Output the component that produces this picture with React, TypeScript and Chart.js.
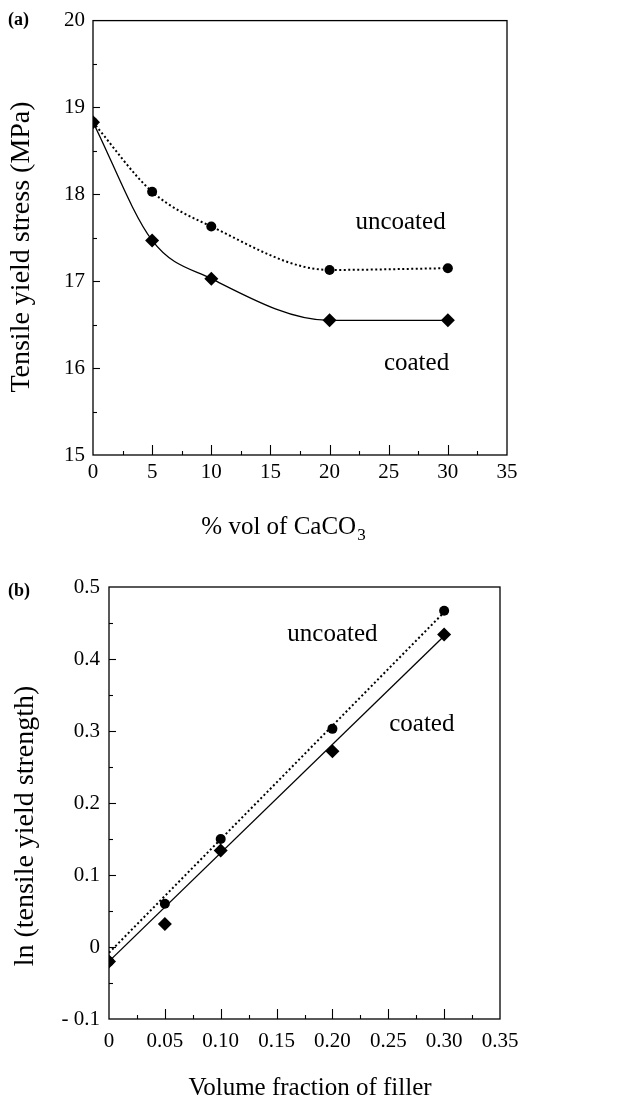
import React, { useEffect, useRef } from "react";
import { Chart, registerables } from "chart.js";

Chart.register(...registerables);

// ---------- data ----------
const pctVol = [0, 5, 10, 20, 30];
const uncoatedStress = [18.83, 18.03, 17.63, 17.13, 17.15];
const coatedStress = [18.83, 17.47, 17.03, 16.55, 16.55];

const volFraction = [0, 0.05, 0.1, 0.2, 0.3];
const uncoatedLn = [-0.02, 0.06, 0.15, 0.303, 0.467];
const coatedLn = [-0.02, 0.032, 0.134, 0.272, 0.434];

const fitX = [0, 0.3];
const uncoatedFit = [-0.008, 0.465];
const coatedFit = [-0.02, 0.432];

const xTicksA = [0, 5, 10, 15, 20, 25, 30, 35];
const yTicksA = [15, 16, 17, 18, 19, 20];
const xTicksB = ["0", "0.05", "0.10", "0.15", "0.20", "0.25", "0.30", "0.35"];
const yTicksB = ["- 0.1", "0", "0.1", "0.2", "0.3", "0.4", "0.5"];

// ---------- layout ----------
const W = 621;
const H = 554;
const SERIF = '"Liberation Serif", "Times New Roman", serif';

type Note = { text: string; x: number; y: number };
type Deco = {
  panel: string;
  panelX: number;
  panelY: number;
  yTitle: string;
  yTitleX: number;
  yTitleY: number;
  xTitle: string;
  xSub?: string;
  xTitleX: number;
  xTitleY: number;
  notes: Note[];
  xMajor: number;
  yMajor: number;
  xMajorLen: number;
  xMinorLen: number;
  yMajorLen: number;
  yMinorLen: number;
};

function decoPlugin(d: Deco) {
  return {
    id: "deco",
    afterDatasetsDraw(chart: any) {
      const ctx = chart.ctx as CanvasRenderingContext2D;
      const a = chart.chartArea;
      const xs = chart.scales.x;
      const ys = chart.scales.y;
      ctx.save();
      ctx.strokeStyle = "#000";
      ctx.lineWidth = 1.3;
      ctx.strokeRect(a.left, a.top, a.right - a.left, a.bottom - a.top);

      // x ticks (inward, from bottom)
      ctx.lineWidth = 1.1;
      const xm = d.xMajor / 2;
      const nx = Math.round((xs.max - xs.min) / xm);
      for (let i = 1; i < nx; i++) {
        const v = xs.min + i * xm;
        const px = Math.round(xs.getPixelForValue(v)) + 0.5;
        const len = i % 2 === 0 ? d.xMajorLen : d.xMinorLen;
        ctx.beginPath();
        ctx.moveTo(px, a.bottom);
        ctx.lineTo(px, a.bottom - len);
        ctx.stroke();
      }
      // y ticks (inward, from left)
      const ym = d.yMajor / 2;
      const ny = Math.round((ys.max - ys.min) / ym);
      for (let i = 1; i < ny; i++) {
        const v = ys.min + i * ym;
        const py = Math.round(ys.getPixelForValue(v)) + 0.5;
        const len = i % 2 === 0 ? d.yMajorLen : d.yMinorLen;
        ctx.beginPath();
        ctx.moveTo(a.left, py);
        ctx.lineTo(a.left + len, py);
        ctx.stroke();
      }

      ctx.fillStyle = "#000";
      // panel label
      ctx.font = `bold 18px ${SERIF}`;
      ctx.textAlign = "left";
      ctx.textBaseline = "middle";
      ctx.fillText(d.panel, d.panelX, d.panelY);

      // notes
      ctx.font = `25px ${SERIF}`;
      ctx.textAlign = "center";
      for (const n of d.notes) {
        ctx.fillText(n.text, xs.getPixelForValue(n.x), ys.getPixelForValue(n.y));
      }

      // x title
      ctx.font = `25px ${SERIF}`;
      const mainW = ctx.measureText(d.xTitle).width;
      let subW = 0;
      if (d.xSub) {
        ctx.font = `17px ${SERIF}`;
        subW = ctx.measureText(d.xSub).width;
      }
      const startX = d.xTitleX - (mainW + subW) / 2;
      ctx.font = `25px ${SERIF}`;
      ctx.textAlign = "left";
      ctx.textBaseline = "middle";
      ctx.fillText(d.xTitle, startX, d.xTitleY);
      if (d.xSub) {
        ctx.font = `17px ${SERIF}`;
        ctx.fillText(d.xSub, startX + mainW + 1, d.xTitleY + 9);
      }

      // y title
      ctx.save();
      ctx.translate(d.yTitleX, d.yTitleY);
      ctx.rotate(-Math.PI / 2);
      ctx.font = `28px ${SERIF}`;
      ctx.textAlign = "center";
      ctx.textBaseline = "middle";
      ctx.fillText(d.yTitle, 0, 0);
      ctx.restore();

      ctx.restore();
    },
  };
}

function makeOptions(opts: {
  plotLeft: number;
  plotRight: number;
  plotTop: number;
  plotBottom: number;
  xMin: number;
  xMax: number;
  xStep: number;
  yMin: number;
  yMax: number;
  yStep: number;
  xLabels: (string | number)[];
  yLabels: (string | number)[];
  xPad: number;
  yPad: number;
}) {
  const tickFont = { family: SERIF, size: 21 };
  return {
    responsive: false,
    animation: false as const,
    layout: {
      padding: {
        left: 0,
        top: opts.plotTop,
        right: W - opts.plotRight,
        bottom: 0,
      },
    },
    plugins: {
      legend: { display: false },
      tooltip: { enabled: false },
    },
    scales: {
      x: {
        type: "linear" as const,
        min: opts.xMin,
        max: opts.xMax,
        grid: { display: false, drawTicks: false },
        border: { display: false },
        afterFit: (s: any) => {
          s.height = H - opts.plotBottom;
        },
        ticks: {
          stepSize: opts.xStep,
          color: "#000",
          font: tickFont,
          padding: opts.xPad,
          maxRotation: 0,
          autoSkip: false,
          callback: (_v: any, i: number) => String(opts.xLabels[i] ?? ""),
        },
      },
      y: {
        type: "linear" as const,
        min: opts.yMin,
        max: opts.yMax,
        grid: { display: false, drawTicks: false },
        border: { display: false },
        afterFit: (s: any) => {
          s.width = opts.plotLeft;
        },
        ticks: {
          stepSize: opts.yStep,
          color: "#000",
          font: tickFont,
          padding: opts.yPad,
          autoSkip: false,
          callback: (_v: any, i: number) => String(opts.yLabels[i] ?? ""),
        },
      },
    },
  };
}

const pts = (xs: number[], ys: number[]) => xs.map((x, i) => ({ x, y: ys[i] }));

function buildA() {
  return {
    type: "scatter" as const,
    data: {
      datasets: [
        {
          label: "uncoated",
          data: pts(pctVol, uncoatedStress),
          showLine: true,
          borderColor: "#000",
          backgroundColor: "#000",
          borderWidth: 2,
          borderDash: [2, 2.5],
          cubicInterpolationMode: "monotone" as const,
          pointStyle: "circle" as const,
          pointRadius: 5,
          pointBorderWidth: 0,
          order: 1,
        },
        {
          label: "coated",
          data: pts(pctVol, coatedStress),
          showLine: true,
          borderColor: "#000",
          backgroundColor: "#000",
          borderWidth: 1.3,
          cubicInterpolationMode: "monotone" as const,
          pointStyle: "rectRot" as const,
          pointRadius: 7,
          pointBorderWidth: 0,
          order: 0,
        },
      ],
    },
    options: makeOptions({
      plotLeft: 93,
      plotRight: 507,
      plotTop: 18,
      plotBottom: 455,
      xMin: 0,
      xMax: 35,
      xStep: 5,
      yMin: 15,
      yMax: 20,
      yStep: 1,
      xLabels: xTicksA,
      yLabels: yTicksA,
      xPad: 5,
      yPad: 8,
    }),
    plugins: [
      decoPlugin({
        panel: "(a)",
        panelX: 8,
        panelY: 20,
        yTitle: "Tensile yield stress (MPa)",
        yTitleX: 22,
        yTitleY: 247,
        xTitle: "% vol of CaCO",
        xSub: "3",
        xTitleX: 283,
        xTitleY: 527,
        notes: [
          { text: "uncoated", x: 26, y: 17.68 },
          { text: "coated", x: 27.35, y: 16.05 },
        ],
        xMajor: 5,
        yMajor: 1,
        xMajorLen: 10,
        xMinorLen: 4,
        yMajorLen: 7,
        yMinorLen: 4,
      }),
    ],
  };
}

function buildB() {
  return {
    type: "scatter" as const,
    data: {
      datasets: [
        {
          label: "uncoated fit",
          data: pts(fitX, uncoatedFit),
          showLine: true,
          borderColor: "#000",
          borderWidth: 2,
          borderDash: [2, 2.5],
          pointRadius: 0,
          order: 3,
        },
        {
          label: "coated fit",
          data: pts(fitX, coatedFit),
          showLine: true,
          borderColor: "#000",
          borderWidth: 1.3,
          pointRadius: 0,
          order: 2,
        },
        {
          label: "uncoated",
          data: pts(volFraction, uncoatedLn),
          showLine: false,
          backgroundColor: "#000",
          borderColor: "#000",
          pointStyle: "circle" as const,
          pointRadius: 5,
          pointBorderWidth: 0,
          order: 1,
        },
        {
          label: "coated",
          data: pts(volFraction, coatedLn),
          showLine: false,
          backgroundColor: "#000",
          borderColor: "#000",
          pointStyle: "rectRot" as const,
          pointRadius: 7,
          pointBorderWidth: 0,
          order: 0,
        },
      ],
    },
    options: makeOptions({
      plotLeft: 109,
      plotRight: 500,
      plotTop: 33,
      plotBottom: 465,
      xMin: 0,
      xMax: 0.35,
      xStep: 0.05,
      yMin: -0.1,
      yMax: 0.5,
      yStep: 0.1,
      xLabels: xTicksB,
      yLabels: yTicksB,
      xPad: 10,
      yPad: 9,
    }),
    plugins: [
      decoPlugin({
        panel: "(b)",
        panelX: 8,
        panelY: 37,
        yTitle: "ln (tensile yield strength)",
        yTitleX: 26,
        yTitleY: 272,
        xTitle: "Volume fraction of filler",
        xTitleX: 310,
        xTitleY: 534,
        notes: [
          { text: "uncoated", x: 0.2, y: 0.434 },
          { text: "coated", x: 0.28, y: 0.309 },
        ],
        xMajor: 0.05,
        yMajor: 0.1,
        xMajorLen: 10,
        xMinorLen: 4,
        yMajorLen: 7,
        yMinorLen: 4,
      }),
    ],
  };
}

function Panel({ build }: { build: () => any }) {
  const ref = useRef<HTMLCanvasElement | null>(null);
  useEffect(() => {
    if (!ref.current) return;
    const chart = new Chart(ref.current, build());
    return () => chart.destroy();
  }, [build]);
  return (
    <canvas
      ref={ref}
      width={W}
      height={H}
      style={{ display: "block", width: W, height: H }}
    />
  );
}

export default function App() {
  return (
    <div
      style={{
        position: "absolute",
        left: 0,
        top: 0,
        width: W,
        height: H * 2,
        background: "#fff",
      }}
    >
      <Panel build={buildA} />
      <Panel build={buildB} />
    </div>
  );
}
